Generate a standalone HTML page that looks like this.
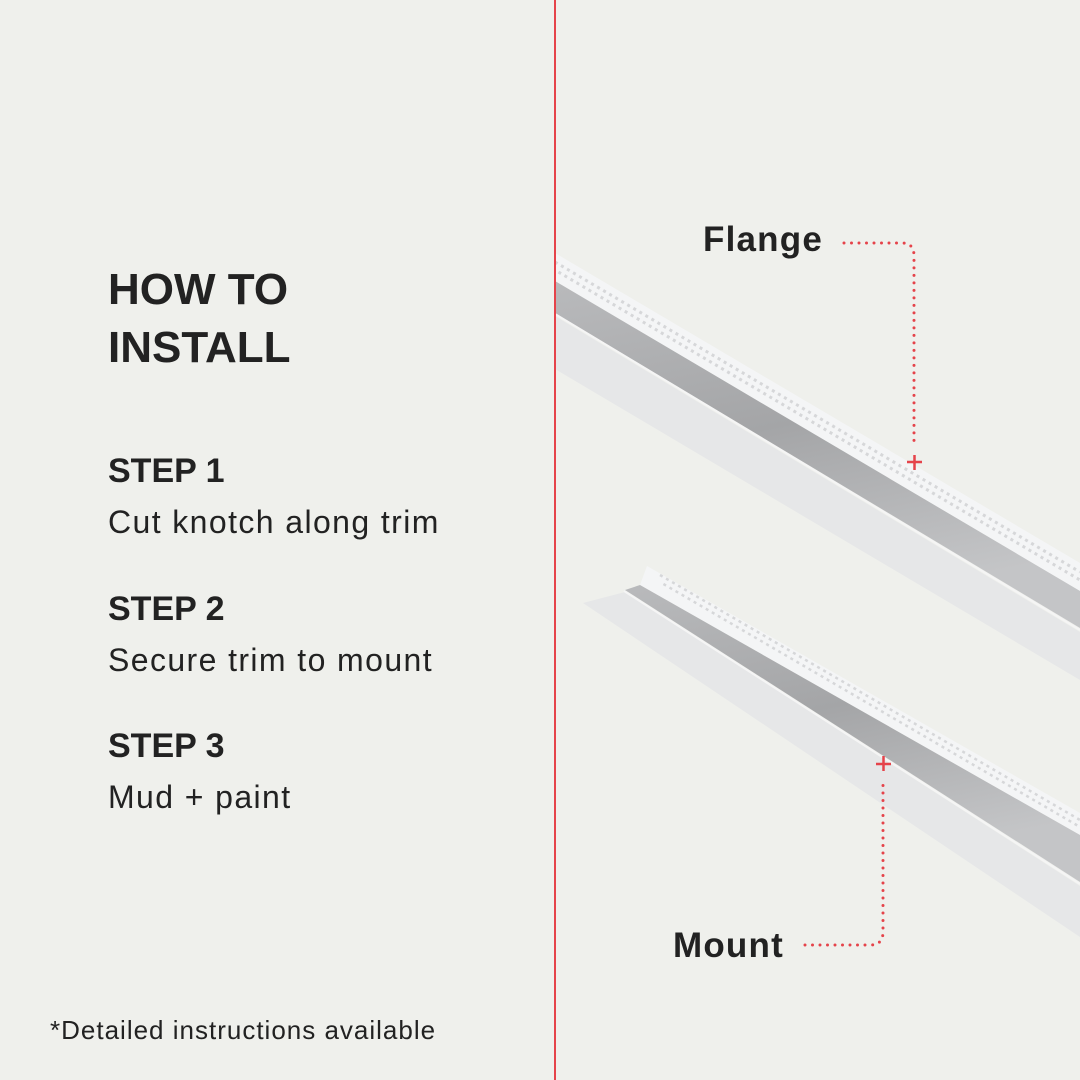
<!DOCTYPE html>
<html><head><meta charset="utf-8"><style>
html,body{margin:0;padding:0;}
body{width:1080px;height:1080px;background:#eff0ec;position:relative;overflow:hidden;font-family:"Liberation Sans",sans-serif;color:#222;}
.t{position:absolute;white-space:nowrap;}
.b{font-size:32px;letter-spacing:1.4px;}
</style></head><body>
<svg width="1080" height="1080" style="position:absolute;left:0;top:0">
<defs>
<linearGradient id="g1" x1="0" y1="0" x2="0.3" y2="1"><stop offset="0" stop-color="#b9babc"/><stop offset="0.5" stop-color="#a4a5a7"/><stop offset="1" stop-color="#c4c5c7"/></linearGradient>
</defs>
<polygon points="555,253 1080,563 1080,591 555,281" fill="#f4f5f6"/>
<polygon points="555,281 1080,591 1080,628 555,313" fill="url(#g1)"/>
<polygon points="555,316 1080,632 1080,680 555,369" fill="#e6e7e8"/>
<line x1="555" y1="314" x2="1080" y2="630" stroke="#f5f5f5" stroke-width="2"/>
<line x1="555" y1="262" x2="1080" y2="572" stroke="#d6d7d9" stroke-width="3" stroke-dasharray="3 4"/>
<line x1="555" y1="270" x2="1080" y2="580" stroke="#d6d7d9" stroke-width="3" stroke-dasharray="3 4" stroke-dashoffset="3"/>
<polygon points="647,566 1080,813 1080,835 640,585" fill="#f4f5f6"/>
<polygon points="640,585 1080,835 1080,882 625,590" fill="url(#g1)"/>
<polygon points="625,592 1080,886 1080,937 583,603" fill="#e6e7e8"/>
<line x1="624" y1="591" x2="1080" y2="884" stroke="#f5f5f5" stroke-width="2"/>
<line x1="660" y1="575" x2="1080" y2="820" stroke="#d6d7d9" stroke-width="2.5" stroke-dasharray="3 4"/>
<line x1="660" y1="582" x2="1080" y2="827" stroke="#d6d7d9" stroke-width="2.5" stroke-dasharray="3 4" stroke-dashoffset="3"/>
<line x1="555" y1="0" x2="555" y2="1080" stroke="#e5434a" stroke-width="2"/>
<path d="M844,243 L902,243 Q914,243 914,256 L914,441" fill="none" stroke="#e5434a" stroke-width="3" stroke-linecap="round" stroke-dasharray="0 7.5"/>
<path d="M907,462 H922 M914.5,455 V470" stroke="#e5434a" stroke-width="2.5"/>
<path d="M805,945 L870,945 Q883,945 883,932 L883,780" fill="none" stroke="#e5434a" stroke-width="3" stroke-linecap="round" stroke-dasharray="0 7.5"/>
<path d="M876,764 H891 M883.5,756 V771" stroke="#e5434a" stroke-width="2.5"/>
</svg>
<div class="t" style="left:108px;top:261px;font-size:44px;font-weight:bold;line-height:58px;">HOW TO<br>INSTALL</div>
<div class="t" style="left:108px;top:452px;font-size:34px;font-weight:bold;">STEP 1</div>
<div class="t b" style="left:108px;top:504px;">Cut knotch along trim</div>
<div class="t" style="left:108px;top:590px;font-size:34px;font-weight:bold;">STEP 2</div>
<div class="t b" style="left:108px;top:642px;">Secure trim to mount</div>
<div class="t" style="left:108px;top:727px;font-size:34px;font-weight:bold;">STEP 3</div>
<div class="t b" style="left:108px;top:779px;">Mud + paint</div>
<div class="t" style="left:50px;top:1015px;font-size:26px;letter-spacing:1px;">*Detailed instructions available</div>
<div class="t" style="left:703px;top:220px;font-size:35px;font-weight:bold;letter-spacing:1.2px;">Flange</div>
<div class="t" style="left:673px;top:926px;font-size:35px;font-weight:bold;letter-spacing:1.2px;">Mount</div>
</body></html>
